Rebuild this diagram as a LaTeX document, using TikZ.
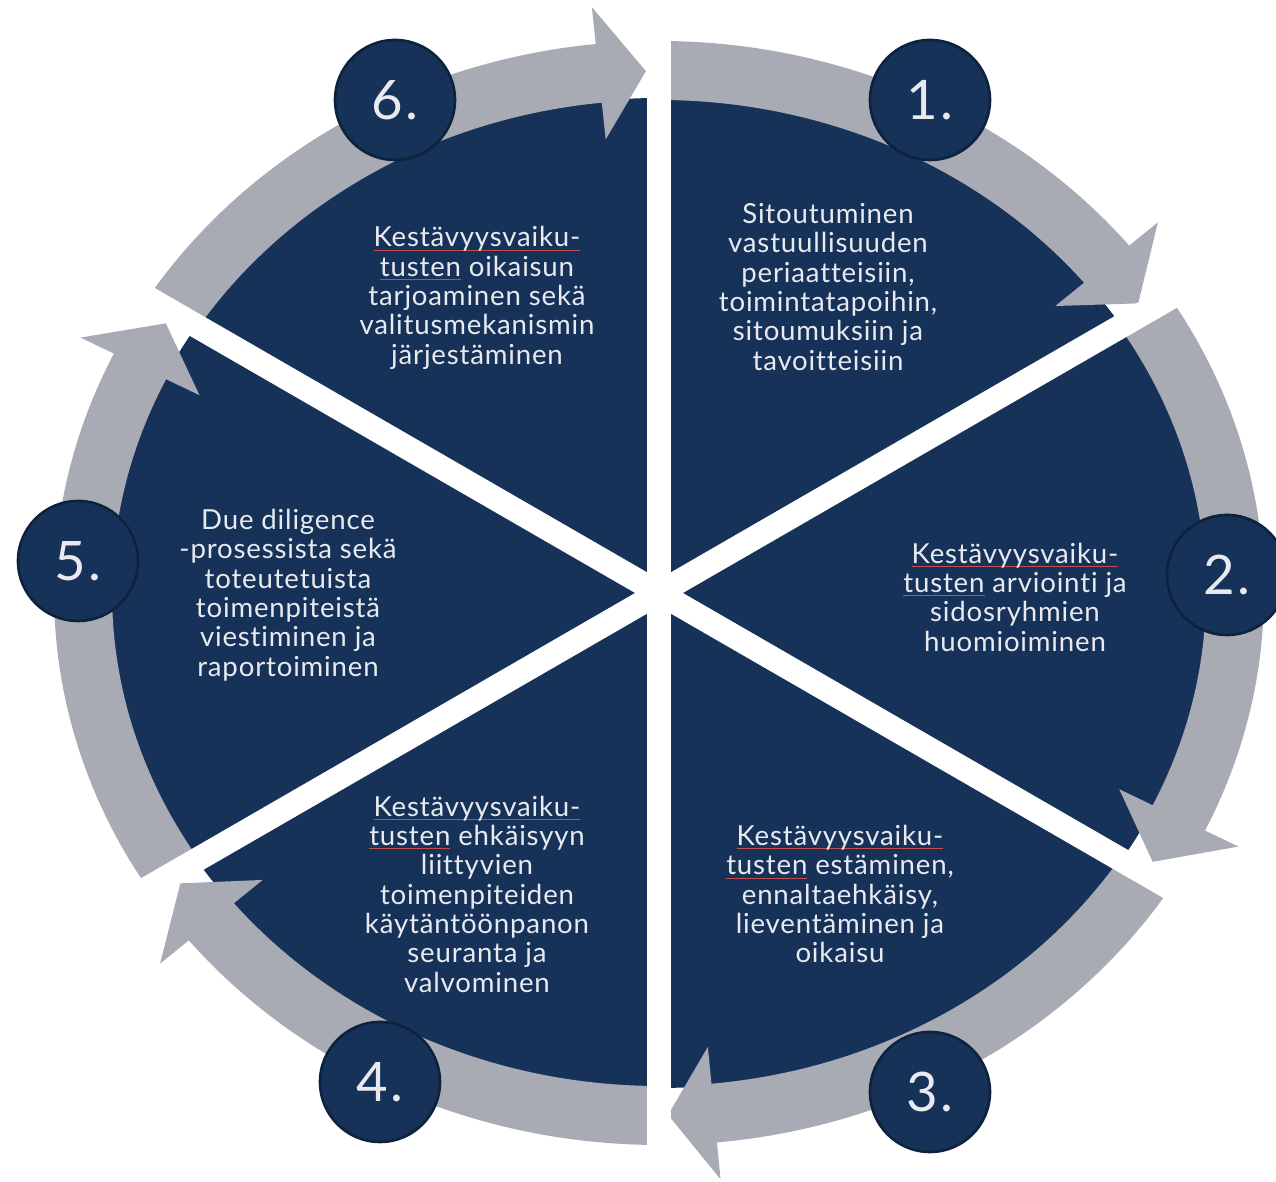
\documentclass[tikz,border=0pt]{standalone}
\usepackage{fontspec}
\setmainfont{Lato}[Ligatures=NoCommon, LetterSpace=3]
\definecolor{navy}{HTML}{163258}
\definecolor{ringgray}{HTML}{A9ABB4}
\definecolor{txt}{HTML}{E8EAF0}
\definecolor{circline}{HTML}{0E213D}
\definecolor{spellred}{HTML}{C0504D}
\newcommand\spellmark[1]{\setbox0\hbox{#1}\rlap{\color{spellred}\rule[-2.3pt]{\wd0}{0.6pt}}\box0\relax}
\begin{document}
\begin{tikzpicture}[x=0.02cm,y=0.02cm,
    every node/.style={text=txt},
    numcirc/.style={circle, fill=navy, draw=circline, line width=1.5pt,
      minimum size=2.4cm, inner sep=0pt, font=\fontsize{31}{31}\selectfont},
    slicetext/.style={align=center, inner sep=0pt,
      font=\fontsize{15.7}{16.7}\selectfont}]
    \useasboundingbox (0,0) rectangle (1276,1182);

    \begin{scope}[shift={(659,589)}]
      \fill[navy] (0,0) ellipse [x radius=549, y radius=495];
      \foreach \st/\bk/\tp in {90/39/33.7, 32.5/-25.5/-31, -32.5/-84.5/-89.1,
                               270/219/213.8, 212.5/154.3/148.9, 147.5/96/91.3} {
        \fill[ringgray] (\st:605 and 552)
          arc[start angle=\st, end angle=\bk, x radius=605, y radius=552]
          -- (\bk:642 and 589) -- (\tp:576 and 522) -- (\bk:510 and 456)
          -- (\bk:547 and 493)
          arc[start angle=\bk, end angle=\st, x radius=547, y radius=493] -- cycle;
      }
      \foreach \a in {30,90,150} {
        \draw[white, line width=13.6pt] (\a:640) -- (\a+180:640);
      }
    \end{scope}

    \node[slicetext] (t1) at (828,895) {Sitoutuminen\\vastuullisuuden\\periaatteisiin,\\toimintatapoihin,\\sitoumuksiin ja\\tavoitteisiin};
    \node[slicetext] (t2) at (1015,585) {\spellmark{Kestävyysvaiku-}\\\spellmark{tusten} arviointi ja\\sidosryhmien\\huomioiminen};
    \node[slicetext] (t3) at (840,288) {\spellmark{Kestävyysvaiku-}\\\spellmark{tusten} estäminen,\\ennaltaehkäisy,\\lieventäminen ja\\oikaisu};
    \node[slicetext] (t4) at (477,288) {\spellmark{Kestävyysvaiku-}\\\spellmark{tusten} ehkäisyyn\\liittyvien\\toimenpiteiden\\käytäntöönpanon\\seuranta ja\\valvominen};
    \node[slicetext] (t5) at (288,587) {Due diligence\\-prosessista sekä\\toteutetuista\\toimenpiteistä\\viestiminen ja\\raportoiminen};
    \node[slicetext] (t6) at (477,884) {\spellmark{Kestävyysvaiku-}\\\spellmark{tusten} oikaisun\\tarjoaminen sekä\\valitusmekanismin\\järjestäminen};

    \node[numcirc] (n1) at (930,1082) {1.};
    \node[numcirc] (n2) at (1227,607) {2.};
    \node[numcirc] (n3) at (930,90) {3.};
    \node[numcirc] (n4) at (380,100) {4.};
    \node[numcirc] (n5) at (78,621) {5.};
    \node[numcirc] (n6) at (395,1082) {6.};
  \end{tikzpicture}
\end{document}
